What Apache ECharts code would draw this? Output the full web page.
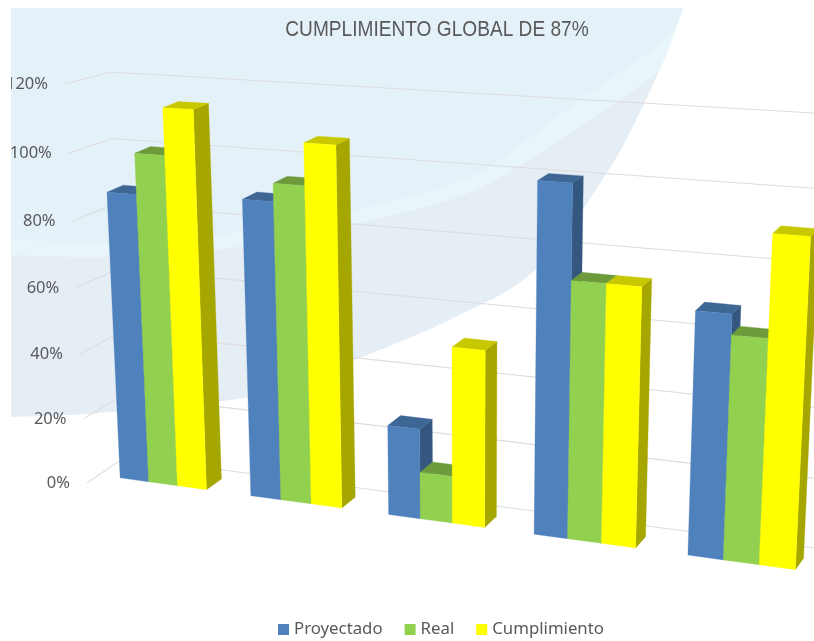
<!DOCTYPE html>
<html>
<head>
<meta charset="utf-8">
<title>Cumplimiento global</title>
<script src="https://cdn.jsdelivr.net/npm/echarts@6/dist/echarts.min.js"></script>
<style>
  html, body { margin: 0; padding: 0; background: #fff; }
  #chart { width: 814px; height: 641px; }
</style>
</head>
<body>
<div id="chart"></div>
<script>
// data
const categories = ['1', '2', '3', '4', '5']
const proyectado = [85, 86, 25.9, 97, 66.3]
const real = [96.7, 91.1, 13.5, 71.3, 60.8]
const cumplimiento = [110, 102.8, 50.1, 71.3, 87.8]
const yTicks = [0, 20, 40, 60, 80, 100, 120]

const grid = { left: 100, top: 60, width: 600, height: 480 }

// corners of the bars plane on screen: 0% left, 0% right, 120% right, 120% left
const plane = [[99, 475], [823, 573.5], [846, 108], [79, 67]]
// depth of the bars runs towards one vanishing point
const depthTo = [1486, -420]
const depthK = 0.0117
// walls behind the bars: [0%, 120%]
const wallFront = [[87, 483], [65, 84]]
const wallCorner = [[125, 457], [110, 72]]
const wallRight = [[814, 548], [814, 113]]
const wallPerspective = 1.045

const H = (() => {
  const [[x0, y0], [x1, y1], [x2, y2], [x3, y3]] = plane
  const sx = x0 - x1 + x2 - x3, sy = y0 - y1 + y2 - y3
  const dx1 = x1 - x2, dx2 = x3 - x2, dy1 = y1 - y2, dy2 = y3 - y2
  const den = dx1 * dy2 - dx2 * dy1
  const g = (sx * dy2 - dx2 * sy) / den
  const h = (dx1 * sy - sx * dy1) / den
  return { a: x1 - x0 + g * x1, b: x3 - x0 + h * x3, c: x0, d: y1 - y0 + g * y1, e: y3 - y0 + h * y3, f: y0, g, h }
})()

function project(p) {
  const u = (p[0] - grid.left) / grid.width
  const v = (grid.top + grid.height - p[1]) / grid.height
  const w = H.g * u + H.h * v + 1
  return [(H.a * u + H.b * v + H.c) / w, (H.d * u + H.e * v + H.f) / w]
}
function back(p) {
  return [p[0] + depthK * (depthTo[0] - p[0]), p[1] + depthK * (depthTo[1] - p[1])]
}
function lerp(seg, t) {
  return [seg[0][0] + (seg[1][0] - seg[0][0]) * t, seg[0][1] + (seg[1][1] - seg[0][1]) * t]
}

const faces = [
  { front: '#4f81bd', top: '#3f6796', side: '#33577f' },
  { front: '#92d050', top: '#6d9b3c', side: '#5f8a35' },
  { front: '#ffff00', top: '#c8c800', side: '#a6a600' }
]

function renderBar(params, api) {
  const slot = params.seriesIndex - 1
  const base = api.coord([api.value(0), 0])
  const tip = api.coord([api.value(0), api.value(1)])
  const w = api.size([1, 0])[0] / 4.5
  const left = base[0] - 1.5 * w + slot * w
  const bl = project([left, base[1]])
  const br = project([left + w, base[1]])
  const tr = project([left + w, tip[1]])
  const tl = project([left, tip[1]])
  const poly = (points, fill) => ({ type: 'polygon', shape: { points }, style: { fill, stroke: fill, lineWidth: 0.3 } })
  return {
    type: 'group',
    children: [
      poly([br, back(br), back(tr), tr], faces[slot].side),
      poly([tl, tr, back(tr), back(tl)], faces[slot].top),
      poly([bl, br, tr, tl], faces[slot].front)
    ]
  }
}

function renderWall(params, api) {
  const v = (grid.top + grid.height - api.coord([0, api.value(0)])[1]) / grid.height
  // gridlines spread a little towards the top of the wall
  const t = v / (v + (1 - v) * wallPerspective)
  const a = lerp(wallFront, t), b = lerp(wallCorner, t), c = lerp(wallRight, t)
  return {
    type: 'group',
    children: [
      { type: 'polyline', shape: { points: [a, b, c] }, style: { fill: null, stroke: '#dedcdc', lineWidth: 1.1 } },
      {
        type: 'text',
        style: {
          x: a[0] - 17, y: a[1], text: api.value(0) + '%', align: 'right', verticalAlign: 'middle',
          fill: '#595959', font: '16.5px "Noto Sans"'
        }
      }
    ]
  }
}

// background decoration, edges
const outerEdge = [[11, 417], [100, 413], [270, 393], [360, 358], [453, 318], [537, 268], [610, 168], [640, 112], [668, 50], [683, 8]]
const bandUpper = [[11, 240], [110, 242], [230, 233], [350, 211], [473, 175], [573, 105], [675, 30], [700, -10]]
const bandLower = [[11, 255], [110, 257], [230, 248], [350, 225], [473, 191], [573, 131], [667, 65], [700, 30]]

function curveY(pts, x) {
  const n = pts.length
  if (x <= pts[0][0]) return pts[0][1]
  if (x >= pts[n - 1][0]) return pts[n - 1][1]
  let i = 1
  while (x > pts[i][0]) i++
  const p0 = pts[Math.max(i - 2, 0)], p1 = pts[i - 1], p2 = pts[i], p3 = pts[Math.min(i + 1, n - 1)]
  const h = p2[0] - p1[0], t = (x - p1[0]) / h
  const m1 = (p2[1] - p0[1]) / (p2[0] - p0[0]) * h
  const m2 = (p3[1] - p1[1]) / (p3[0] - p1[0]) * h
  return (2 * t * t * t - 3 * t * t + 1) * p1[1] + (t * t * t - 2 * t * t + t) * m1 +
    (-2 * t * t * t + 3 * t * t) * p2[1] + (t * t * t - t * t) * m2
}
function region(curve) {
  const pts = [[11, 8]]
  for (let x = 11; x <= 683; x += 2) {
    let y = curveY(outerEdge, x)
    if (curve) y = Math.min(y, curveY(curve, x))
    pts.push([x, Math.max(y, 8)])
  }
  pts.push([683, 8])
  return pts
}

const chart = echarts.init(document.getElementById('chart'), null, { renderer: 'canvas' })
const barSeries = (name, values, slot) => ({
  name,
  type: 'custom',
  renderItem: renderBar,
  color: faces[slot].front,
  itemStyle: { color: faces[slot].front },
  encode: { x: 0, y: 1 },
  data: values.map((v, i) => [i, v]),
  silent: true
})

chart.setOption({
  animation: false,
  backgroundColor: '#fff',
  legend: {
    data: ['Proyectado', 'Real', 'Cumplimiento'],
    left: 273,
    top: 616,
    icon: 'rect',
    itemWidth: 11,
    itemHeight: 11,
    itemGap: 22,
    textStyle: { color: '#595959', fontSize: 16.8, fontFamily: '"Noto Sans"' }
  },
  grid: grid,
  xAxis: { type: 'category', data: categories, show: false },
  yAxis: { type: 'value', min: 0, max: 120, interval: 20, show: false },
  graphic: [
    { type: 'polygon', silent: true, z: 0, shape: { points: region() }, style: { fill: '#e5edf5' } },
    { type: 'polygon', silent: true, z: 1, shape: { points: region(bandLower) }, style: { fill: '#e8f5fb' } },
    { type: 'polygon', silent: true, z: 2, shape: { points: region(bandUpper) }, style: { fill: '#e5f1f8' } },
    { type: 'rect', silent: true, z: 100, shape: { x: 0, y: 0, width: 11, height: 641 }, style: { fill: '#fff' } },
    {
      type: 'text',
      silent: true,
      z: 101,
      x: 437,
      y: 30,
      scaleX: 0.889,
      style: {
        text: 'CUMPLIMIENTO GLOBAL DE 87%',
        align: 'center',
        verticalAlign: 'middle',
        fill: '#595959',
        font: '21.5px "Liberation Sans"'
      }
    }
  ],
  series: [
    {
      name: 'walls',
      type: 'custom',
      renderItem: renderWall,
      encode: { y: 0 },
      data: yTicks.map(v => [v]),
      silent: true
    },
    barSeries('Proyectado', proyectado, 0),
    barSeries('Real', real, 1),
    barSeries('Cumplimiento', cumplimiento, 2)
  ]
})
</script>
</body>
</html>
